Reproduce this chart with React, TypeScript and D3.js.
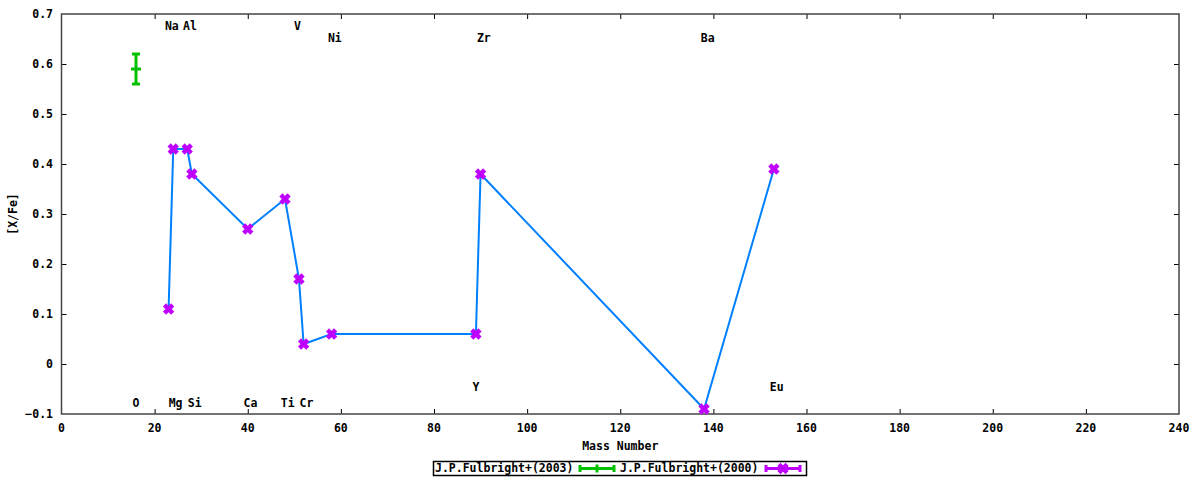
import React from "react";
import * as d3 from "d3";

const elements = ["Na", "Mg", "Al", "Si", "Ca", "Ti", "V", "Cr", "Ni", "Y", "Zr", "Ba", "Eu"];
const massNumbers = [23, 24, 27, 28, 40, 48, 51, 52, 58, 89, 90, 138, 153];
const xFe2000 = [0.11, 0.43, 0.43, 0.38, 0.27, 0.33, 0.17, 0.04, 0.06, 0.06, 0.38, -0.09, 0.39];

const oMass = [16];
const oValue = [0.59];
const oError = [0.03];

const labelNames = ["Na", "Al", "V", "Ni", "Zr", "Ba", "O", "Mg", "Si", "Ca", "Ti", "Cr", "Y", "Eu"];
const labelX = [23.7, 27.6, 50.7, 58.7, 90.7, 138.8, 16, 24.5, 28.6, 40.6, 48.6, 52.6, 89, 153.6];
const labelY = [0.676, 0.676, 0.676, 0.652, 0.652, 0.652, -0.078, -0.078, -0.078, -0.078, -0.078, -0.078, -0.046, -0.046];

const xTicks = [0, 20, 40, 60, 80, 100, 120, 140, 160, 180, 200, 220, 240];
const yTicks = [-0.1, 0, 0.1, 0.2, 0.3, 0.4, 0.5, 0.6, 0.7];

const W = 1200;
const H = 480;
const M = { left: 61.5, right: 1179, top: 14, bottom: 414 };
const FONT = "'DejaVu Sans Mono', monospace";
const GREEN = "#00c000";
const PURPLE = "#c000ff";
const BLUE = "#0080ff";

function Cross({ cx, cy }: { cx: number; cy: number }) {
  const a = 2.5;
  return (
    <g stroke={PURPLE} strokeWidth={4.5} strokeLinecap="square">
      <line x1={cx - a} y1={cy - a} x2={cx + a} y2={cy + a} />
      <line x1={cx - a} y1={cy + a} x2={cx + a} y2={cy - a} />
    </g>
  );
}

export default function App() {
  const x = d3.scaleLinear().domain([0, 240]).range([M.left, M.right]);
  const y = d3.scaleLinear().domain([-0.1, 0.7]).range([M.bottom, M.top]);
  const pts = massNumbers.map((m, i) => [x(m), y(xFe2000[i])] as [number, number]);
  const line = d3.line()(pts) || "";
  const fmt = (v: number) => (Math.abs(v) < 1e-9 ? "0" : d3.format(".1f")(v));
  const tl = 5;

  const legY = 468.5;
  return (
    <svg width={W} height={H} style={{ position: "absolute", left: 0, top: 0, background: "#fff" }}>
      <rect x={0} y={0} width={W} height={H} fill="#fff" />
      {/* ticks */}
      <g stroke="#000" strokeWidth={1}>
        {xTicks.slice(1, -1).map((t) => (
          <g key={"xt" + t}>
            <line x1={x(t) + 0.5} x2={x(t) + 0.5} y1={M.bottom} y2={M.bottom - tl} />
            <line x1={x(t) + 0.5} x2={x(t) + 0.5} y1={M.top} y2={M.top + tl} />
          </g>
        ))}
        {yTicks.slice(1, -1).map((t) => (
          <g key={"yt" + t}>
            <line x1={M.left} x2={M.left + tl} y1={Math.round(y(t)) + 0.5} y2={Math.round(y(t)) + 0.5} />
            <line x1={M.right} x2={M.right - tl} y1={Math.round(y(t)) + 0.5} y2={Math.round(y(t)) + 0.5} />
          </g>
        ))}
      </g>
      <rect x={M.left} y={M.top} width={M.right - M.left} height={M.bottom - M.top} fill="none" stroke="#444" strokeWidth={1.5} />
      {/* tick labels */}
      <g fontFamily={FONT} fontWeight="bold" fontSize={11.5} fill="#000">
        {xTicks.map((t) => (
          <text key={"xl" + t} x={x(t)} y={428} textAnchor="middle" dominantBaseline="middle">
            {fmt(t).replace(".0", "")}
          </text>
        ))}
        {yTicks.map((t) => (
          <text key={"yl" + t} x={53} y={y(t)} textAnchor="end" dominantBaseline="middle">
            {fmt(t)}
          </text>
        ))}
        <text x={(M.left + M.right) / 2} y={446} textAnchor="middle" dominantBaseline="middle">
          Mass Number
        </text>
        <text
          x={13}
          y={(M.top + M.bottom) / 2}
          textAnchor="middle"
          dominantBaseline="middle"
          transform={`rotate(-90, 13, ${(M.top + M.bottom) / 2})`}
        >
          [X/Fe]
        </text>
        {labelNames.map((n, i) => (
          <text key={"lab" + i} x={x(labelX[i])} y={y(labelY[i])} textAnchor="middle" dominantBaseline="middle">
            {n}
          </text>
        ))}
      </g>
      {/* Fulbright 2003: O with error bar */}
      {oMass.map((m, i) => {
        const cx = x(m);
        return (
          <g key={"o" + i} stroke={GREEN} strokeWidth={3}>
            <line x1={cx} x2={cx} y1={y(oValue[i] - oError[i])} y2={y(oValue[i] + oError[i])} />
            <line x1={cx - 4} x2={cx + 4} y1={y(oValue[i] - oError[i])} y2={y(oValue[i] - oError[i])} />
            <line x1={cx - 4} x2={cx + 4} y1={y(oValue[i] + oError[i])} y2={y(oValue[i] + oError[i])} />
            <line x1={cx - 5} x2={cx + 5} y1={y(oValue[i])} y2={y(oValue[i])} />
          </g>
        );
      })}
      {/* Fulbright 2000 line */}
      <path d={line} fill="none" stroke={BLUE} strokeWidth={2} />
      {pts.map(([px, py], i) => (
        <Cross key={"p" + i} cx={px} cy={py} />
      ))}
      {/* legend */}
      <rect x={433.5} y={461.5} width={373} height={14} fill="#fff" stroke="#000" strokeWidth={1.5} />
      <g fontFamily={FONT} fontWeight="bold" fontSize={11.5} fill="#000">
        <text x={435} y={legY} dominantBaseline="middle">J.P.Fulbright+(2003)</text>
        <text x={620} y={legY} dominantBaseline="middle">J.P.Fulbright+(2000)</text>
      </g>
      <g stroke={GREEN} strokeWidth={3}>
        <line x1={580} x2={614} y1={legY} y2={legY} />
        <line x1={580} x2={580} y1={legY - 3.5} y2={legY + 3.5} />
        <line x1={614} x2={614} y1={legY - 3.5} y2={legY + 3.5} />
        <line x1={597} x2={597} y1={legY - 4} y2={legY + 4} />
      </g>
      <g stroke={PURPLE} strokeWidth={3}>
        <line x1={766} x2={800} y1={legY} y2={legY} />
        <line x1={766} x2={766} y1={legY - 3.5} y2={legY + 3.5} />
        <line x1={800} x2={800} y1={legY - 3.5} y2={legY + 3.5} />
      </g>
      <Cross cx={783} cy={legY} />
    </svg>
  );
}
